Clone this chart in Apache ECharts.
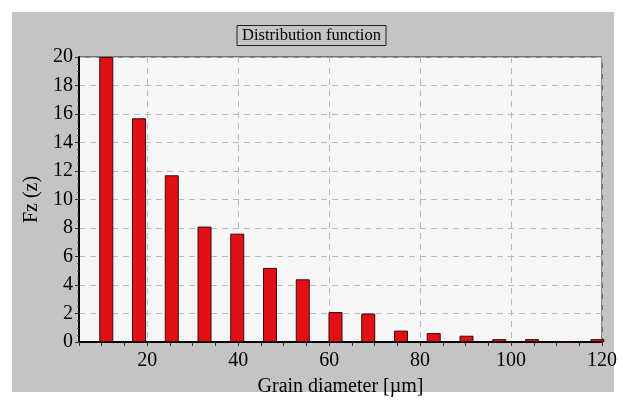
<!DOCTYPE html>
<html>
<head>
<meta charset="utf-8">
<title>Distribution function</title>
<script src="https://cdn.jsdelivr.net/npm/echarts@6/dist/echarts.min.js"></script>
<style>
  html, body { margin: 0; padding: 0; background: #fff; }
  #chart { width: 623px; height: 402px; }
</style>
</head>
<body>
<div id="chart"></div>
<script>
// bin centres (grain diameter, um) and distribution values
const diameters = [11, 18.2, 25.4, 32.6, 39.8, 47, 54.2, 61.4, 68.6, 75.8, 83, 90.2, 97.4, 104.6, 111.8, 119]
const fzValues = [20, 15.7, 11.7, 8.1, 7.6, 5.2, 4.4, 2.1, 2.0, 0.8, 0.63, 0.44, 0.2, 0.2, 0, 0.2]
const xLabels = [20, 40, 60, 80, 100, 120]

const serif = 'Liberation Serif'

const myChart = echarts.init(document.getElementById('chart'))

const option = {
  backgroundColor: '#fff',
  graphic: [{
    type: 'rect',
    z: -10,
    shape: { x: 12, y: 12, width: 602, height: 380 },
    style: { fill: '#c4c4c4' }
  }],
  title: {
    text: 'Distribution function',
    left: 'center',
    top: 25,
    padding: [2, 5],
    borderWidth: 1,
    borderColor: '#222',
    textStyle: { fontFamily: serif, fontSize: 16.5, fontWeight: 'normal', color: '#000' }
  },
  grid: {
    left: 79,
    right: 21,
    top: 57,
    bottom: 59,
    show: true,
    backgroundColor: '#f6f6f6',
    borderColor: '#222',
    borderWidth: 1
  },
  xAxis: [{
    type: 'value',
    min: 5,
    max: 120,
    interval: 5,
    name: 'Grain diameter [µm]',
    nameLocation: 'middle',
    nameGap: 35,
    nameTextStyle: { fontFamily: serif, fontSize: 20, color: '#000' },
    axisLine: { lineStyle: { color: '#000', width: 2 } },
    axisTick: { length: 4, lineStyle: { color: '#333' } },
    axisLabel: {
      fontFamily: serif, fontSize: 20, color: '#000', margin: 9,
      formatter: v => xLabels.includes(v) ? String(v) : ''
    },
    splitLine: { show: false }
  }, {
    // only carries the dashed vertical grid lines
    type: 'value',
    min: 5,
    max: 120,
    axisLine: { show: false },
    axisTick: { show: false },
    axisLabel: { show: false },
    splitLine: { lineStyle: { color: '#bbb', type: [6, 5], width: 1 } }
  }],
  yAxis: {
    type: 'value',
    min: 0,
    max: 20,
    interval: 2,
    name: 'Fz (z)',
    nameLocation: 'middle',
    nameGap: 31,
    nameTextStyle: { fontFamily: serif, fontSize: 20, color: '#000' },
    axisLine: { show: true, lineStyle: { color: '#000', width: 2 } },
    axisTick: { length: 4, lineStyle: { color: '#333' } },
    minorTick: { show: true, splitNumber: 4, length: 2, lineStyle: { color: '#555' } },
    axisLabel: { fontFamily: serif, fontSize: 20, color: '#000', margin: 6 },
    splitLine: { lineStyle: { color: '#bbb', type: [6, 5], width: 1 } }
  },
  series: [{
    type: 'bar',
    xAxisIndex: 0,
    barWidth: 14,
    data: diameters.map((d, i) => [d, fzValues[i]]),
    itemStyle: { color: '#e20f17', borderColor: '#3b0a0a', borderWidth: 1 }
  }]
}

myChart.setOption(option)
</script>
</body>
</html>
